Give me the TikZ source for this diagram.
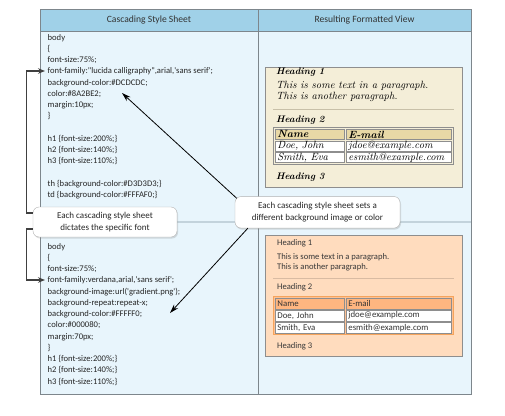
\documentclass[tikz,border=0pt]{standalone}
\usepackage{fontspec}
\newfontfamily\uifont{Carlito}
\usetikzlibrary{arrows.meta,calc,shadows}
\definecolor{hdrblue}{HTML}{A0D1E8}
\definecolor{paneblue}{HTML}{E8F5FC}
\definecolor{paneline}{HTML}{C3D3DC}
\definecolor{framegray}{HTML}{7D868C}
\definecolor{beige}{HTML}{F4EED8}
\definecolor{beigehd}{HTML}{E8D8A6}
\definecolor{beigeline}{HTML}{C8C0A8}
\definecolor{peach}{HTML}{FFDCBE}
\definecolor{peachhd}{HTML}{FFB680}
\definecolor{peachedge}{HTML}{F5A45C}
\definecolor{peachline}{HTML}{D9BBA2}
\definecolor{cellgray}{HTML}{8E8E8E}
\tikzset{
  code/.style={anchor=north west, align=left, inner sep=0pt, text=black!85,
    font=\uifont\fontsize{8.6}{11.25}\selectfont},
  colhead/.style={text=black!80, font=\uifont\fontsize{9.6}{11}\selectfont},
  callout/.style={draw=black!30, fill=white, rounded corners=6pt, align=center,
    drop shadow={opacity=0.25, shadow xshift=1pt, shadow yshift=-1.5pt},
    inner sep=0pt, text=black!85, font=\uifont\fontsize{9}{11.6}\selectfont},
  fancy/.style={anchor=west, inner sep=0pt, font=\itshape\fontsize{10.5}{10}\selectfont},
  fancyhead/.style={anchor=west, inner sep=0pt, font=\bfseries\itshape\fontsize{9.5}{10}\selectfont},
  plain/.style={anchor=west, inner sep=0pt, text=black!78, font=\uifont\fontsize{8.6}{10}\selectfont},
  cell/.style={draw=cellgray, line width=0.8pt, anchor=north west, fill=white,
    inner xsep=2pt, inner ysep=0pt, align=left},
  cellL/.style={cell, text width=65pt},
  cellR/.style={cell, text width=101pt},
  fancycell/.style={font=\itshape\fontsize{10.5}{9}\selectfont},
  plaincell/.style={text=black!80, font=\uifont\fontsize{8.8}{9}\selectfont},
  bracket/.style={draw=black!75, line width=1.2pt, -{Stealth[length=7pt,width=5.5pt]}},
  pointer/.style={draw=black, line width=0.8pt, -{Stealth[length=9pt,width=5.5pt]}},
}
\begin{document}
\begin{tikzpicture}[x=1pt,y=-1pt]
  \useasboundingbox (0,0) rectangle (505,415);
  % frame and column headers
  \fill[paneblue] (40,9) rectangle (471,394);
  \fill[hdrblue] (40,9) rectangle (471,31);
  \draw[paneline, line width=1.2pt] (40,222) -- (471,222);
  \draw[framegray] (258,9) -- (258,394);
  \draw[framegray] (40,31) -- (471,31);
  \draw[framegray] (40,9) rectangle (471,394);
  \node[colhead] (hcss) at (149,20) {Cascading Style Sheet};
  \node[colhead] (hview) at (364.5,20) {Resulting Formatted View};

  % style sheets
  \node[code] (cssA) at (47.5,34) {body\\
\{\\
font-size:75\%;\\
font-family:"lucida calligraphy",arial,'sans serif';\\
background-color:\#DCDCDC;\\
color:\#8A2BE2;\\
margin:10px;\\
\}\\
~\\
h1 \{font-size:200\%;\}\\
h2 \{font-size:140\%;\}\\
h3 \{font-size:110\%;\}\\
~\\
th \{background-color:\#D3D3D3;\}\\
td \{background-color:\#FFFAF0;\}};
  \node[code] (cssB) at (47.5,243) {body\\
\{\\
font-size:75\%;\\
font-family:verdana,arial,'sans serif';\\
background-image:url('gradient.png');\\
background-repeat:repeat-x;\\
background-color:\#FFFFF0;\\
color:\#000080;\\
margin:70px;\\
\}\\
h1 \{font-size:200\%;\}\\
h2 \{font-size:140\%;\}\\
h3 \{font-size:110\%;\}};

  % first result
  \draw[cellgray, fill=beige] (265,67) rectangle (462,187);
  \node[fancyhead] (h1A) at (276,72) {Heading 1};
  \node[fancy] (pA1) at (276,85.5) {This is some text in a paragraph.};
  \node[fancy] (pA2) at (276,96.5) {This is another paragraph.};
  \draw[beigeline, line width=1pt] (273,109) -- (454,109);
  \node[fancyhead] (h2A) at (276,120) {Heading 2};
  \draw[cellgray, line width=0.8pt] (273,127) rectangle (453,164);
  \node[cellL, fancycell, fill=beigehd, minimum height=10pt] (nameA) at (275,129) {\bfseries Name};
  \node[cellR, fancycell, fill=beigehd, minimum height=10pt] (mailA) at (346,129) {\bfseries E-mail};
  \node[cellL, fancycell, minimum height=10pt] (doeA) at (275,140.5) {Doe, John};
  \node[cellR, fancycell, minimum height=10pt] (jdoeA) at (346,140.5) {jdoe@example.com};
  \node[cellL, fancycell, minimum height=10pt] (smithA) at (275,152) {Smith, Eva};
  \node[cellR, fancycell, minimum height=10pt] (esmithA) at (346,152) {esmith@example.com};
  \node[fancyhead] (h3A) at (276,177) {Heading 3};

  % second result
  \draw[cellgray, fill=peach] (265,235) rectangle (462,356);
  \node[plain] (h1B) at (277,243) {Heading 1};
  \node[plain] (pB1) at (277,257) {This is some text in a paragraph.};
  \node[plain] (pB2) at (277,267) {This is another paragraph.};
  \draw[peachline, line width=1pt] (273,278) -- (454,278);
  \node[plain] (h2B) at (277,287) {Heading 2};
  \draw[peachedge, fill=peachhd!70!peach, line width=0.8pt] (273,296) rectangle (453,334.5);
  \node[cellL, plaincell, fill=peachhd, minimum height=10.5pt] (nameB) at (275,298) {Name};
  \node[cellR, plaincell, fill=peachhd, minimum height=10.5pt] (mailB) at (346,298) {E-mail};
  \node[cellL, plaincell, minimum height=10.5pt] (doeB) at (275,310) {Doe, John};
  \node[cellR, plaincell, minimum height=10.5pt] (jdoeB) at (346,310) {jdoe@example.com};
  \node[cellL, plaincell, minimum height=10.5pt] (smithB) at (275,322) {Smith, Eva};
  \node[cellR, plaincell, minimum height=10.5pt] (esmithB) at (346,322) {esmith@example.com};
  \node[plain] (h3B) at (277,346) {Heading 3};

  % callouts
  \node[callout, minimum width=144pt, minimum height=30pt] (fontnote) at (105,222)
    {Each cascading style sheet\\dictates the specific font};
  \node[callout, minimum width=165pt, minimum height=31.5pt] (bgnote) at (317.5,212.3)
    {Each cascading style sheet sets a\\different background image or color};

  \coordinate (ffA) at (45,71);
  \coordinate (ffB) at (45,280);
  \coordinate (colA) at (122,93);
  \coordinate (bgB) at (170,313);

  \draw[bracket] ($(fontnote.west)+(0,-9)$) -- ++(-6,0) |- (ffA);
  \draw[bracket] ($(fontnote.west)+(0,7)$) -- ++(-6,0) |- (ffB);
  \draw[pointer] ($(bgnote.north west)+(2,2)$) -- (colA);
  \draw[pointer] ($(bgnote.south west)+(13,0)$) -- (bgB);
\end{tikzpicture}
\end{document}
